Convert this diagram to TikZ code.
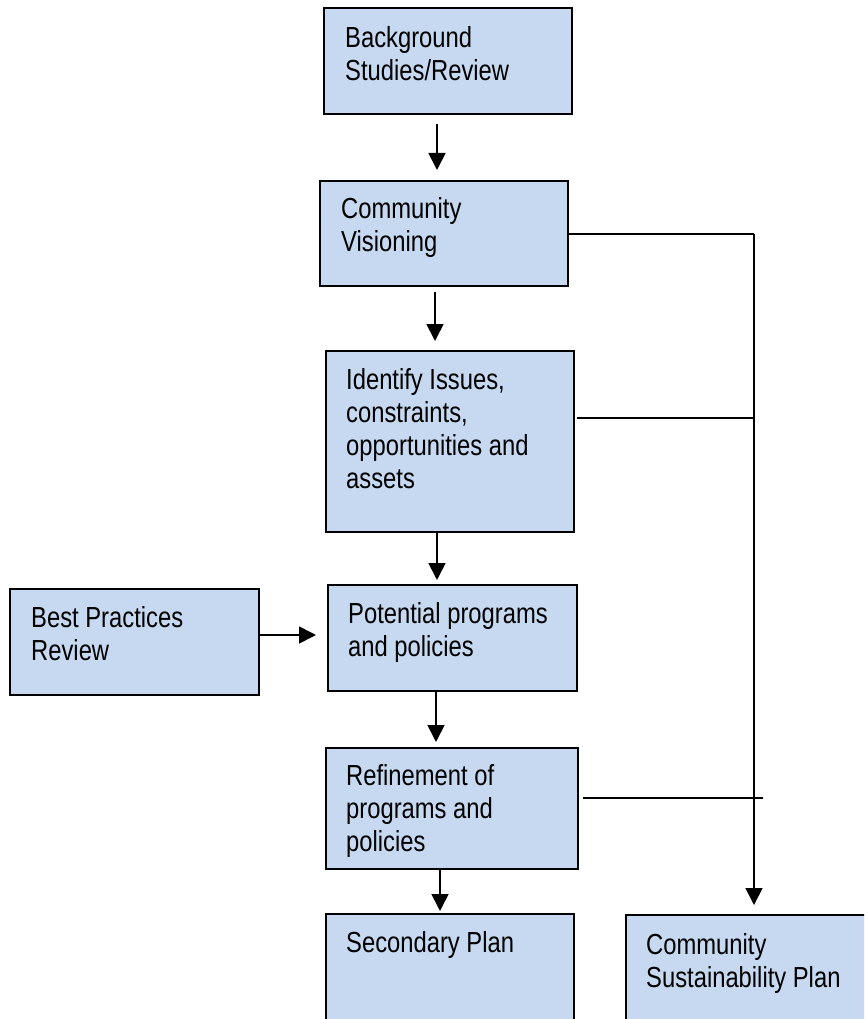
\documentclass[tikz,border=0pt]{standalone}
\usepackage{fontspec}
\setmainfont{Liberation Sans}[FakeStretch=0.82]
\usetikzlibrary{arrows.meta}
\definecolor{boxblue}{HTML}{C6D9F1}
\tikzset{
  box/.style={draw=black, fill=boxblue, line width=1.6pt, rectangle, inner sep=0pt, anchor=north west},
  txt/.style={anchor=north west, align=left, inner sep=0pt, font=\fontsize{29}{33}\selectfont},
  conn/.style={line width=1.7pt},
  arr/.style={line width=1.7pt, -{Triangle[length=17pt,width=17pt]}}
}
\begin{document}
\begin{tikzpicture}[x=1pt,y=-1pt]
\useasboundingbox (0,0) rectangle (864,1019);
\clip (0,0) rectangle (864,1019);
% boxes
\node[box, minimum width=248pt, minimum height=106pt] (b1) at (323,7) {};
\node[box, minimum width=248pt, minimum height=105pt] (b2) at (319,180) {};
\node[box, minimum width=248pt, minimum height=181pt] (b3) at (325,350) {};
\node[box, minimum width=249pt, minimum height=106pt] (b4) at (327,584) {};
\node[box, minimum width=249pt, minimum height=106pt] (bp) at (9,588) {};
\node[box, minimum width=252pt, minimum height=121pt] (b6) at (325,747) {};
\node[box, minimum width=248pt, minimum height=140pt] (b7) at (325,913) {};
\node[box, minimum width=260pt, minimum height=140pt] (csp) at (625,914) {};
% texts (first baseline about 39pt below the box top; strut height 23.1pt)
\node[txt] (t1) at ([shift={(22,17)}]b1.north west) {\strut Background\\Studies/Review};
\node[txt] (t2) at ([shift={(22,15)}]b2.north west) {\strut Community\\Visioning};
\node[txt] (t3) at ([shift={(21,16)}]b3.north west) {\strut Identify Issues,\\constraints,\\opportunities and\\assets};
\node[txt] (t4) at ([shift={(21,16)}]b4.north west) {\strut Potential programs\\and policies};
\node[txt] (tp) at ([shift={(22,16)}]bp.north west) {\strut Best Practices\\Review};
\node[txt] (t6) at ([shift={(21,15)}]b6.north west) {\strut Refinement of\\programs and\\policies};
\node[txt] (t7) at ([shift={(21,16)}]b7.north west) {\strut Secondary Plan};
\node[txt] (tc) at ([shift={(21,17)}]csp.north west) {\strut Community\\Sustainability Plan};
% right-hand collector
\coordinate (vtop) at (754,234);
\coordinate (r3) at (754,418);
\coordinate (r6end) at (763,798);
\draw[conn] (b2.east |- vtop) -- (vtop);
\draw[conn] (577,418) -- (r3);
\draw[conn] (583,798) -- (r6end);
\draw[arr, shorten >=9pt] (vtop) -- (754,0 |- csp.north);
% main arrows
\draw[arr, shorten <=9pt, shorten >=10pt] (437,0 |- b1.south) -- (437,0 |- b2.north);
\draw[arr, shorten <=5pt, shorten >=9pt] (435,0 |- b2.south) -- (435,0 |- b3.north);
\draw[arr, shorten >=4pt] (437,0 |- b3.south) -- (437,0 |- b4.north);
\draw[arr, shorten >=5pt] (436,0 |- b4.south) -- (436,0 |- b6.north);
\draw[arr, shorten >=2pt] (440,0 |- b6.south) -- (440,0 |- b7.north);
\draw[arr, shorten >=11pt] (bp.east |- 0,635) -- (b4.west |- 0,635);
\end{tikzpicture}
\end{document}
